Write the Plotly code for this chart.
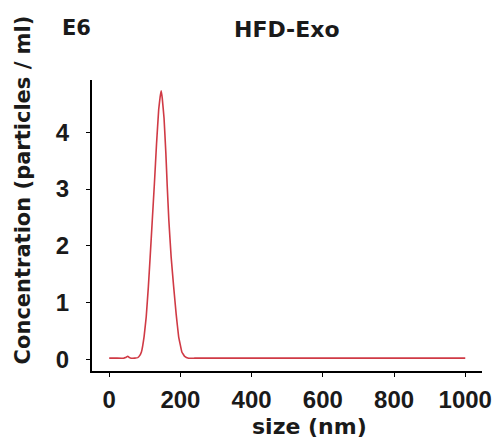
import plotly.graph_objects as go

# Particle size distribution (NTA) for HFD-Exo
size_nm = [0, 20, 40, 46, 52, 57, 62, 72, 80, 85, 90.5, 98, 104, 110, 115, 121,
           127, 133, 139, 143, 146, 149, 154, 159, 163, 167.5, 174, 181, 188,
           195, 204, 212, 223, 240, 300, 400, 500, 600, 700, 800, 900, 1000]
concentration_e6 = [0.02, 0.02, 0.02, 0.03, 0.055, 0.03, 0.02, 0.02, 0.03, 0.06,
                    0.13, 0.4, 0.75, 1.28, 1.8, 2.45, 3.1, 3.8, 4.4, 4.62, 4.73,
                    4.6, 4.25, 3.65, 3.05, 2.45, 1.8, 1.28, 0.8, 0.4, 0.13, 0.05,
                    0.02, 0.02, 0.02, 0.02, 0.02, 0.02, 0.02, 0.02, 0.02, 0.02]

x_ticks = [0, 200, 400, 600, 800, 1000]
y_ticks = [0, 1, 2, 3, 4]

TICK_FONT = dict(family="Liberation Sans, Arial, sans-serif", size=24,
                 color="#1a1a1a", weight="bold")
TITLE_FONT = dict(family="DejaVu Sans, sans-serif", size=22,
                  color="#1a1a1a", weight="bold")

fig = go.Figure()
fig.add_trace(go.Scatter(
    x=size_nm, y=concentration_e6, mode="lines",
    line=dict(color="#d03a45", width=1.6, shape="spline", smoothing=0.2),
    hoverinfo="skip", showlegend=False,
))

axis_common = dict(
    showline=True, linecolor="black", linewidth=2,
    ticks="outside", ticklen=4, tickwidth=1.2, tickcolor="black",
    showgrid=False, zeroline=False, tickfont=TICK_FONT,
)

fig.update_layout(
    width=504, height=446,
    margin=dict(l=92, r=17, t=80, b=75),
    paper_bgcolor="white", plot_bgcolor="white",
    xaxis=dict(range=[-48.3, 1047], tickvals=x_ticks,
               ticklabelstandoff=2, **axis_common),
    yaxis=dict(range=[-0.206, 4.92], tickvals=y_ticks,
               ticklabelstandoff=12, **axis_common),
    annotations=[
        dict(text="size (nm)", xref="paper", yref="paper", x=0.557, y=-0.192,
             xanchor="center", yanchor="middle", showarrow=False, font=TITLE_FONT),
        dict(text="Concentration (particles / ml)", xref="paper", yref="paper",
             x=-0.177, y=0.624, textangle=-90, xanchor="center", yanchor="middle",
             showarrow=False, font=dict(TITLE_FONT, size=21)),
        dict(text="E6", xref="paper", yref="paper", x=-0.0405, y=1.177,
             xanchor="center", yanchor="middle", showarrow=False,
             font=dict(TITLE_FONT, size=21)),
        dict(text="HFD-Exo", xref="paper", yref="paper", x=0.501, y=1.174,
             xanchor="center", yanchor="middle", showarrow=False, font=TITLE_FONT),
    ],
)

fig.write_html("out.html")
